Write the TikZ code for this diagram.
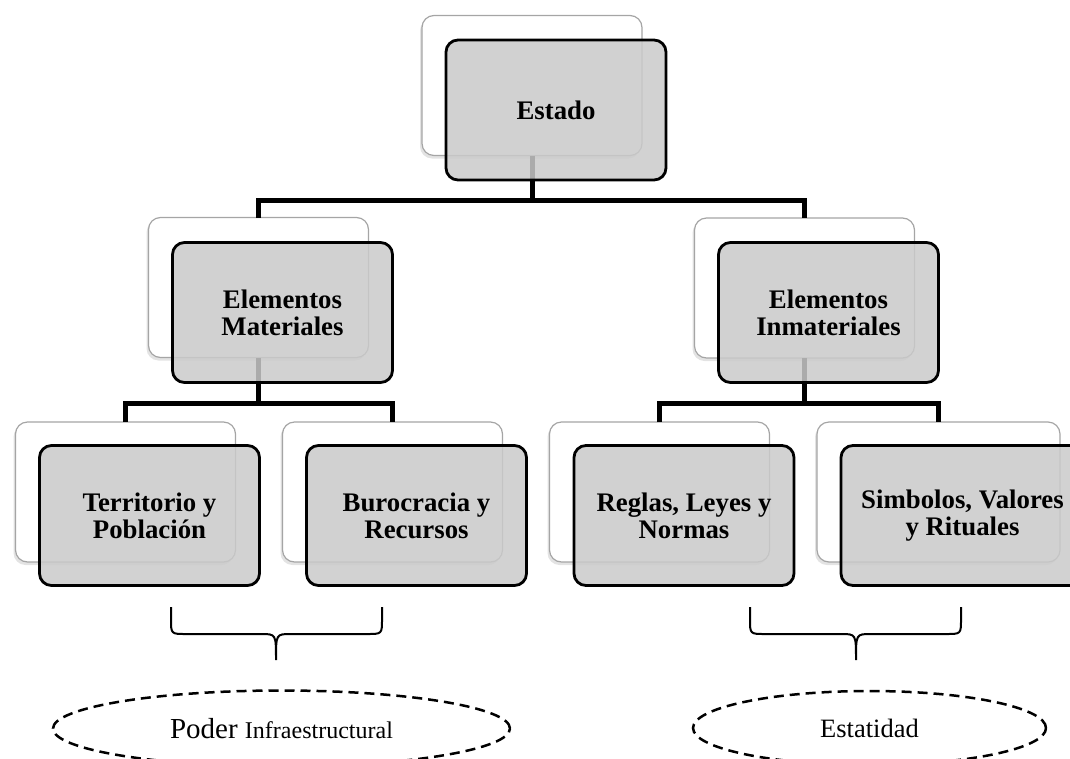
\documentclass[tikz,border=0pt]{standalone}
\usepackage{fontspec}
\setmainfont{Liberation Serif}
\usetikzlibrary{shapes.geometric,shadows}
\definecolor{frontgray}{RGB}{202,202,202}
\definecolor{backline}{RGB}{165,165,165}
\begin{document}
\begin{tikzpicture}[x=1pt,y=-1pt,
 backbox/.style={draw=backline, line width=1.2pt, fill=white, rounded corners=12pt,
   minimum width=220pt, minimum height=140pt, inner sep=0pt, outer sep=0pt,
   drop shadow={shadow xshift=-2pt, shadow yshift=-3pt, opacity=0.22}},
 frontbox/.style={draw=black, line width=2.8pt, fill=frontgray, fill opacity=0.85, text opacity=1,
   rounded corners=12pt, minimum width=220pt, minimum height=140pt, inner sep=0pt, outer sep=0pt,
   align=center, font=\bfseries\fontsize{26.8}{27}\selectfont},
 conn/.style={line width=5pt, draw=black},
 bracepath/.style={line width=2pt},
 oval/.style={ellipse, draw, line width=2.5pt, dash pattern=on 10pt off 6pt, inner sep=0pt}
]
\useasboundingbox (0,0) rectangle (1070,758);

% back boxes
\node[backbox] (estB) at (532,85.5) {};
\node[backbox] (matB) at (258.5,287.5) {};
\node[backbox] (inmB) at (804.5,288) {};
\node[backbox] (terB) at (125.5,492) {};
\node[backbox] (burB) at (392.5,492) {};
\node[backbox] (regB) at (659.5,492) {};
\node[backbox, minimum width=243pt] (simB) at (938.5,492) {};

% connectors
\coordinate (j1) at (532,200);
\coordinate (j2) at (258.5,403);
\coordinate (j3) at (804.5,403);
\draw[conn] (estB.south) -- (j1);
\draw[conn] (matB.north) |- (j1) -| (inmB.north);
\draw[conn] (matB.south) -- (j2);
\draw[conn] (terB.north) |- (j2) -| (burB.north);
\draw[conn] (inmB.south) -- (j3);
\draw[conn] (regB.north) |- (j3) -| (simB.north);

% front boxes
\node[frontbox] (est) at (556,110) {Estado};
\node[frontbox] (mat) at (282.5,312.5) {Elementos\\Materiales};
\node[frontbox] (inm) at (828.5,312.5) {Elementos\\Inmateriales};
\node[frontbox] (ter) at (149.5,515.5) {Territorio y\\Población};
\node[frontbox] (bur) at (416.5,515.5) {Burocracia y\\Recursos};
\node[frontbox] (reg) at (684,515.5) {Reglas, Leyes y\\Normas};
\node[frontbox, minimum width=243pt] (sim) at (962.5,515.5) {Simbolos, Valores\\y Rituales};

% braces
\draw[bracepath] (171,607) -- (171,619) .. controls (171,634) .. (186,634) -- (261,634)
  .. controls (276,634) .. (276,660) .. controls (276,634) .. (291,634) -- (367,634)
  .. controls (382,634) .. (382,619) -- (382,607);
\draw[bracepath] (750,607) -- (750,619) .. controls (750,634) .. (765,634) -- (841,634)
  .. controls (856,634) .. (856,660) .. controls (856,634) .. (871,634) -- (946,634)
  .. controls (961,634) .. (961,619) -- (961,607);

% ovals
\node[oval, minimum width=457pt, minimum height=76pt] (pod) at (281.5,728.5)
  {\fontsize{29}{30}\selectfont Poder {\fontsize{24}{26}\selectfont Infraestructural}};
\node[oval, minimum width=353pt, minimum height=74pt] (sta) at (869.5,728)
  {\fontsize{26.5}{28}\selectfont Estatidad};
\end{tikzpicture}
\end{document}
